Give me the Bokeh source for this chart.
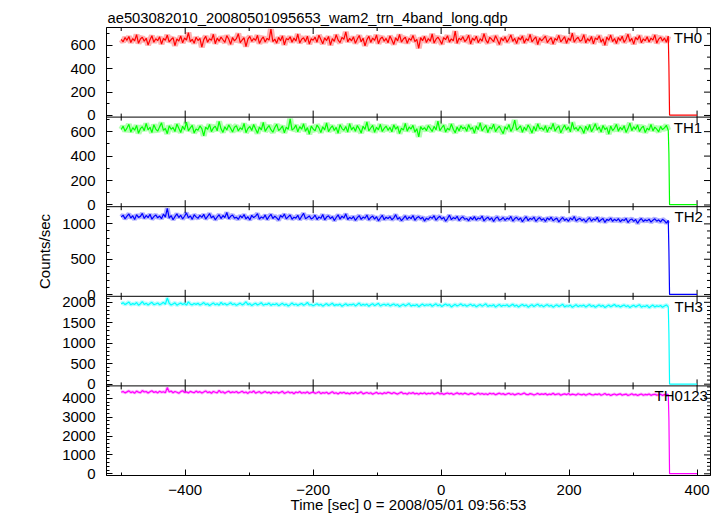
import math
from bokeh.plotting import figure
from bokeh.models import Range1d, FixedTicker, Span, Label, CustomJSTickFormatter
from bokeh.embed import file_html
from bokeh.resources import INLINE

title_text = "ae503082010_20080501095653_wam2_trn_4band_long.qdp"
x_label = "Time [sec] 0 = 2008/05/01 09:56:53"
y_label = "Counts/sec"

# time bins (sec): level part starts at -500 with 3 s bins, then the drop at the end
start_time = -500
bin_step = 3
tail_times = [356, 357, 400]

th0_values = [
    652, 631, 668, 644, 677, 625, 659, 640, 693, 618, 655, 671, 636, 662, 604, 649, 683, 627, 658, 641,
    674, 612, 660, 645, 689, 630, 651, 667, 598, 656, 638, 681, 622, 664, 647, 709, 633, 653, 619, 670,
    642, 661, 585, 650, 679, 628, 657, 644, 696, 615, 663, 637, 672, 649, 626, 684, 655, 609, 668, 639,
    658, 701, 624, 647, 666, 591, 654, 678, 635, 660, 643, 687, 617, 652, 673, 629, 661, 646, 740, 632,
    655, 620, 669, 641, 682, 606, 659, 648, 675, 627, 663, 638, 698, 621, 654, 666, 633, 680, 612, 657,
    645, 671, 628, 688, 651, 614, 665, 642, 677, 603, 658, 635, 692, 646, 624, 669, 653, 716, 630, 661,
    640, 674, 618, 656, 685, 632, 662, 597, 650, 679, 626, 664, 643, 690, 615, 657, 672, 637, 660, 623,
    681, 647, 609, 666, 639, 694, 628, 655, 670, 619, 661, 644, 686, 633, 652, 576, 667, 641, 678, 625,
    659, 636, 699, 621, 654, 672, 645, 611, 668, 650, 684, 629, 657, 640, 723, 618, 663, 647, 676, 634,
    651, 688, 613, 662, 643, 679, 624, 658, 637, 701, 646, 620, 670, 653, 632, 683, 649, 607, 665, 641,
    674, 627, 656, 690, 635, 661, 616, 668, 648, 682, 621, 657, 642, 695, 630, 654, 673, 608, 664, 639,
    658, 680, 625, 649, 667, 612, 660, 644, 687, 631, 653, 675, 619, 662, 641, 706, 628, 655, 670, 636,
    647, 693, 622, 659, 638, 677, 614, 664, 650, 684, 629, 656, 602, 671, 645, 689, 633, 660, 617, 668,
    642, 679, 626, 653, 697, 635, 661, 611, 670, 648, 685, 623, 657, 640, 674, 630, 663, 646, 691, 620,
    655, 672, 638, 664, 627, 681,
]
th0_tail = [420, 3, 3]

th1_values = [
    618, 645, 603, 629, 660, 596, 633, 612, 651, 587, 624, 641, 608, 667, 615, 636, 592, 657, 621, 604,
    639, 672, 610, 626, 583, 648, 619, 634, 601, 662, 627, 593, 644, 616, 678, 606, 631, 652, 589, 622,
    611, 647, 625, 566, 637, 618, 659, 600, 630, 645, 607, 684, 623, 594, 640, 613, 655, 628, 597, 636,
    649, 605, 632, 617, 668, 591, 626, 643, 609, 658, 621, 586, 638, 614, 675, 602, 629, 650, 616, 595,
    634, 661, 608, 624, 646, 590, 637, 619, 705, 612, 627, 653, 598, 641, 620, 664, 603, 633, 579, 645,
    622, 606, 654, 631, 592, 640, 615, 671, 600, 628, 648, 610, 635, 587, 657, 625, 612, 642, 596, 666,
    614, 638, 603, 650, 623, 589, 644, 618, 679, 607, 630, 652, 594, 636, 615, 660, 601, 627, 646, 611,
    635, 599, 656, 620, 642, 585, 629, 613, 667, 604, 638, 621, 652, 596, 624, 557, 641, 617, 633, 608,
    649, 626, 601, 643, 615, 686, 609, 632, 654, 597, 628, 612, 663, 620, 591, 639, 605, 648, 623, 636,
    603, 657, 619, 634, 588, 645, 616, 672, 607, 630, 651, 593, 637, 622, 661, 600, 627, 644, 611, 584,
    640, 618, 658, 602, 633, 695, 614, 628, 647, 595, 636, 610, 655, 625, 589, 643, 606, 664, 621, 632,
    612, 649, 597, 637, 620, 668, 604, 631, 646, 590, 626, 653, 615, 639, 598, 676, 619, 634, 607, 642,
    623, 587, 644, 611, 657, 600, 629, 665, 614, 638, 596, 650, 618, 633, 580, 646, 609, 627, 660, 603,
    636, 615, 648, 594, 625, 670, 608, 641, 619, 655, 601, 630, 645, 592, 628, 613, 659, 606, 637, 620,
    599, 643, 616, 631, 652, 610,
]
th1_tail = [420, 3, 3]

th2_values = [
    1098, 1124, 1071, 1109, 1140, 1083, 1115, 1062, 1131, 1092, 1106, 1149, 1077, 1119, 1088, 1136, 1066, 1102, 1127, 1085,
    1111, 1074, 1138, 1096, 1219, 1081, 1117, 1059, 1103, 1142, 1090, 1123, 1070, 1108, 1156, 1087, 1114, 1064, 1129, 1099,
    1079, 1120, 1093, 1135, 1068, 1105, 1146, 1084, 1112, 1057, 1097, 1130, 1075, 1118, 1090, 1161, 1072, 1107, 1125, 1081,
    1094, 1063, 1116, 1087, 1132, 1070, 1101, 1054, 1121, 1089, 1110, 1145, 1066, 1098, 1079, 1127, 1060, 1104, 1136, 1076,
    1109, 1085, 1052, 1118, 1093, 1139, 1071, 1100, 1126, 1064, 1095, 1082, 1122, 1058, 1107, 1150, 1074, 1091, 1113, 1069,
    1087, 1124, 1061, 1099, 1078, 1133, 1056, 1096, 1115, 1073, 1104, 1047, 1090, 1128, 1067, 1110, 1084, 1142, 1062, 1093,
    1071, 1105, 1049, 1088, 1118, 1064, 1097, 1080, 1126, 1055, 1092, 1110, 1068, 1101, 1043, 1083, 1122, 1060, 1094, 1076,
    1102, 1058, 1085, 1131, 1066, 1090, 1045, 1079, 1113, 1062, 1098, 1074, 1119, 1051, 1087, 1104, 1069, 1095, 1040, 1081,
    1063, 1099, 1078, 1116, 1052, 1086, 1107, 1067, 1093, 1038, 1075, 1124, 1059, 1089, 1071, 1108, 1047, 1082, 1100, 1065,
    1077, 1044, 1092, 1061, 1103, 1053, 1084, 1069, 1111, 1041, 1073, 1096, 1057, 1088, 1035, 1080, 1099, 1050, 1066, 1091,
    1048, 1083, 1064, 1106, 1039, 1075, 1094, 1055, 1086, 1030, 1070, 1101, 1046, 1079, 1062, 1097, 1036, 1068, 1089, 1052,
    1074, 1034, 1085, 1058, 1095, 1043, 1067, 1081, 1028, 1063, 1090, 1049, 1072, 1037, 1083, 1056, 1104, 1040, 1065, 1078,
    1045, 1069, 1026, 1060, 1087, 1038, 1071, 1052, 1093, 1031, 1058, 1077, 1021, 1064, 1048, 1082, 1035, 1066, 1043, 1074,
    1030, 1061, 1047, 1079, 1019, 1055, 1070, 1036, 1063, 1008, 1051, 1076, 1033, 1059, 1042, 1068, 1024, 1053, 1072, 1039,
    1057, 1027, 1064, 1045, 1012, 1050,
]
th2_tail = [620, 2, 2]

th3_values = [
    1962, 1991, 1945, 1974, 2008, 1938, 1969, 1951, 1996, 1931, 1965, 2019, 1948, 1979, 1936, 1972, 2001, 1943, 1960, 1985,
    1940, 1967, 1999, 1953, 2105, 1976, 1934, 1961, 1988, 1929, 1957, 1981, 1946, 1972, 1932, 2011, 1955, 1938, 1970, 1950,
    1978, 1933, 1960, 1993, 1944, 1966, 1923, 1954, 1985, 1939, 1963, 1929, 2000, 1947, 1971, 1934, 1958, 1989, 1942, 1965,
    1926, 1953, 1980, 1937, 1962, 2015, 1943, 1968, 1920, 1951, 1977, 1935, 1959, 1991, 1930, 1955, 1946, 1982, 1924, 1957,
    1941, 1969, 1918, 1948, 1975, 1932, 1956, 1909, 1943, 1984, 1936, 1961, 1921, 1950, 1972, 1928, 1954, 1996, 1934, 1947,
    1915, 1942, 1965, 1927, 1953, 1906, 1939, 1968, 1923, 1949, 1980, 1919, 1944, 1931, 1958, 1902, 1935, 1963, 1924, 1946,
    1937, 1960, 1912, 1945, 1983, 1921, 1950, 1928, 1957, 1903, 1940, 1966, 1918, 1947, 1974, 1910, 1938, 1952, 1925, 1961,
    1911, 1937, 1959, 1920, 1945, 1897, 1930, 1954, 1913, 1940, 1971, 1907, 1933, 1918, 1949, 1892, 1926, 1956, 1915, 1939,
    1928, 1952, 1904, 1936, 1963, 1914, 1943, 1899, 1931, 1957, 1920, 1946, 1888, 1924, 1950, 1909, 1935, 1962, 1917, 1941,
    1903, 1930, 1955, 1913, 1938, 1890, 1922, 1947, 1906, 1933, 1964, 1898, 1926, 1911, 1942, 1885, 1919, 1949, 1901, 1929,
    1916, 1940, 1895, 1925, 1953, 1904, 1932, 1887, 1920, 1946, 1909, 1935, 1880, 1914, 1941, 1899, 1927, 1955, 1906, 1931,
    1893, 1921, 1944, 1902, 1928, 1882, 1915, 1938, 1897, 1924, 1951, 1889, 1917, 1903, 1934, 1877, 1911, 1940, 1894, 1922,
    1908, 1931, 1886, 1918, 1945, 1896, 1923, 1879, 1912, 1937, 1900, 1926, 1872, 1906, 1933, 1891, 1919, 1946, 1898, 1924,
    1885, 1913, 1936, 1894, 1920, 1874, 1907, 1930, 1889, 1916, 1942, 1881, 1909, 1895, 1927, 1869, 1903, 1932, 1886, 1914,
    1899, 1923, 1878, 1910, 1936, 1890,
]
th3_tail = [1240, 3, 3]

th0123_values = [
    4318, 4362, 4287, 4340, 4395, 4301, 4347, 4272, 4379, 4324, 4291, 4408, 4333, 4360, 4279, 4343, 4397, 4310, 4354, 4286,
    4371, 4315, 4349, 4296, 4566, 4337, 4383, 4293, 4357, 4322, 4268, 4351, 4402, 4306, 4341, 4284, 4366, 4327, 4295, 4380,
    4312, 4353, 4276, 4334, 4390, 4298, 4342, 4264, 4363, 4319, 4290, 4416, 4304, 4346, 4271, 4330, 4374, 4289, 4338, 4306,
    4357, 4281, 4323, 4370, 4294, 4332, 4258, 4347, 4309, 4386, 4275, 4320, 4353, 4266, 4314, 4362, 4287, 4329, 4250, 4341,
    4296, 4335, 4273, 4316, 4367, 4259, 4305, 4348, 4282, 4321, 4242, 4330, 4293, 4356, 4268, 4309, 4277, 4341, 4254, 4300,
    4326, 4263, 4292, 4344, 4245, 4303, 4271, 4322, 4236, 4288, 4350, 4257, 4295, 4231, 4310, 4274, 4317, 4248, 4283, 4226,
    4301, 4260, 4319, 4247, 4284, 4338, 4233, 4276, 4305, 4252, 4293, 4219, 4268, 4314, 4242, 4281, 4229, 4298, 4256, 4322,
    4289, 4244, 4306, 4260, 4223, 4278, 4327, 4241, 4269, 4215, 4292, 4252, 4301, 4233, 4264, 4211, 4275, 4238, 4295, 4219,
    4265, 4238, 4291, 4219, 4254, 4302, 4227, 4262, 4208, 4247, 4283, 4231, 4270, 4199, 4244, 4288, 4222, 4259, 4213, 4276,
    4236, 4201, 4262, 4249, 4190, 4228, 4281, 4215, 4253, 4207, 4240, 4194, 4269, 4225, 4257, 4183, 4234, 4272, 4211, 4246,
    4187, 4230, 4264, 4203, 4241, 4176, 4219, 4255, 4198, 4236, 4281, 4206, 4189, 4247, 4223, 4171, 4213, 4259, 4195, 4232,
    4208, 4248, 4179, 4224, 4196, 4265, 4185, 4217, 4241, 4163, 4205, 4236, 4192, 4254, 4177, 4221, 4199, 4168, 4238, 4203,
    4182, 4227, 4158, 4211, 4246, 4189, 4173, 4219, 4195, 4237, 4164, 4202, 4251, 4180, 4214, 4151, 4196, 4228, 4170, 4207,
    4235, 4166, 4198, 4221, 4154, 4188, 4243, 4175, 4209, 4147, 4192, 4226, 4161, 4203, 4182, 4230, 4156, 4197, 4215, 4168,
    4189, 4214, 4152, 4196, 4177, 4208,
]
th0123_tail = [2900, 5, 5]

band_names = ["TH0", "TH1", "TH2", "TH3", "TH0123"]
band_colors = ["#ff0000", "#00ff00", "#0000ff", "#00ffff", "#ff00ff"]
band_values = [th0_values, th1_values, th2_values, th3_values, th0123_values]
band_tails = [th0_tail, th1_tail, th2_tail, th3_tail, th0123_tail]
band_limits = [(-14, 754), (-14, 719), (-24, 1243), (-42, 2147), (-90, 4656)]
major_steps = [200, 200, 500, 500, 1000]
minor_steps = [100, 100, 100, 100, 200]
x_limits = (-523, 421)
x_major = [-400, -200, 0, 200, 400]
x_minor = [-500, -300, -100, 100, 300]
x_labels = ["\u2212400", "\u2212200", "0", "200", "400"]

FONT = "Liberation Sans"
n_pan = len(band_names)
halo_widths = [6, 6, 5, 4, 3]

p = figure(width=724, height=516, x_range=Range1d(*x_limits), y_range=Range1d(0, n_pan),
           output_backend="svg", toolbar_location=None,
           min_border_left=106, min_border_right=14, min_border_top=27, min_border_bottom=41)
p.background_fill_color = "white"
p.border_fill_color = "white"
p.outline_line_color = "black"
p.outline_line_alpha = 1.0
p.xgrid.grid_line_color = None
p.ygrid.grid_line_color = None

p.title.text = title_text
p.title.align = "left"
p.title.offset = 1
p.title.standoff = 4
p.title.text_font = FONT
p.title.text_font_size = "14.75px"
p.title.text_font_style = "normal"
p.title.text_color = "black"

# y ticks of all panels on one panel-unit axis
y_major, y_minor, y_major_labels = [], [], []
for i, (lo, hi) in enumerate(band_limits):
    b = n_pan - 1 - i
    span = hi - lo
    for v in range(0, int(hi) + 1, minor_steps[i]):
        pos = b + (v - lo) / span
        if v % major_steps[i] == 0:
            y_major.append(pos)
            y_major_labels.append(str(v))
        else:
            y_minor.append(pos)

fmt_code = """
    for (let i = 0; i < pos.length; i++) { if (Math.abs(pos[i] - tick) < 1e-6) return labs[i]; }
    return "";
"""
y_ticker = FixedTicker(ticks=y_major, minor_ticks=y_minor)
y_fmt = CustomJSTickFormatter(args=dict(pos=y_major, labs=y_major_labels), code=fmt_code)
x_ticker = FixedTicker(ticks=x_major, minor_ticks=x_minor)
x_fmt = CustomJSTickFormatter(args=dict(pos=x_major, labs=x_labels), code=fmt_code)

def style_axis(ax):
    ax.axis_line_color = "black"
    ax.major_tick_line_color = "black"
    ax.minor_tick_line_color = "black"
    ax.major_tick_in = 6
    ax.major_tick_out = 0
    ax.minor_tick_in = 3
    ax.minor_tick_out = 0
    ax.major_label_text_font = FONT
    ax.major_label_text_font_size = "15px"
    ax.major_label_text_color = "black"
    ax.axis_label_text_font = FONT
    ax.axis_label_text_font_size = "15px"
    ax.axis_label_text_font_style = "normal"
    ax.axis_label_text_color = "black"

yl = p.yaxis[0]
yl.ticker = y_ticker
yl.formatter = y_fmt
style_axis(yl)
yl.major_label_standoff = 11
yl.axis_label = y_label
yl.axis_label_standoff = 6

xb = p.xaxis[0]
xb.ticker = x_ticker
xb.formatter = x_fmt
style_axis(xb)
xb.major_label_standoff = 9
xb.axis_label = x_label
xb.axis_label_standoff = -2

# ticks on the right and top frame edges and on the panel separators (inward, screen-sized)
x_right = x_limits[1]
p.scatter(x=[x_right] * len(y_major), y=y_major, marker="dash", size=13, line_color="black", line_width=1)
p.scatter(x=[x_right] * len(y_minor), y=y_minor, marker="dash", size=7, line_color="black", line_width=1)
for k in range(1, n_pan + 1):
    if k < n_pan:
        p.add_layout(Span(location=k, dimension="width", line_color="black", line_width=1))
    p.scatter(x=x_major, y=[k] * len(x_major), marker="dash", size=13, angle=math.pi / 2,
              line_color="black", line_width=1)
    p.scatter(x=x_minor, y=[k] * len(x_minor), marker="dash", size=7, angle=math.pi / 2,
              line_color="black", line_width=1)

label_right = [408, 408, 409, 409, 417]
for i, name in enumerate(band_names):
    lo, hi = band_limits[i]
    b = n_pan - 1 - i
    span = hi - lo
    rname = "r_" + name
    p.extra_y_ranges[rname] = Range1d(lo - b * span, hi + (n_pan - 1 - b) * span)
    level_times = [start_time + bin_step * j for j in range(len(band_values[i]))]
    # pale band for the error bars of the level part only
    p.line(level_times, band_values[i], y_range_name=rname, line_color=band_colors[i],
           line_width=halo_widths[i], line_alpha=0.3)
    p.line(level_times + tail_times, band_values[i] + band_tails[i], y_range_name=rname,
           line_color=band_colors[i], line_width=1.2)
    p.add_layout(Label(x=label_right[i], y=b + 1, text=name, text_align="right", text_baseline="top",
                       y_offset=-1.5, text_font=FONT, text_font_size="15px", text_color="black"))

open("out.html", "w").write(file_html(p, INLINE))
